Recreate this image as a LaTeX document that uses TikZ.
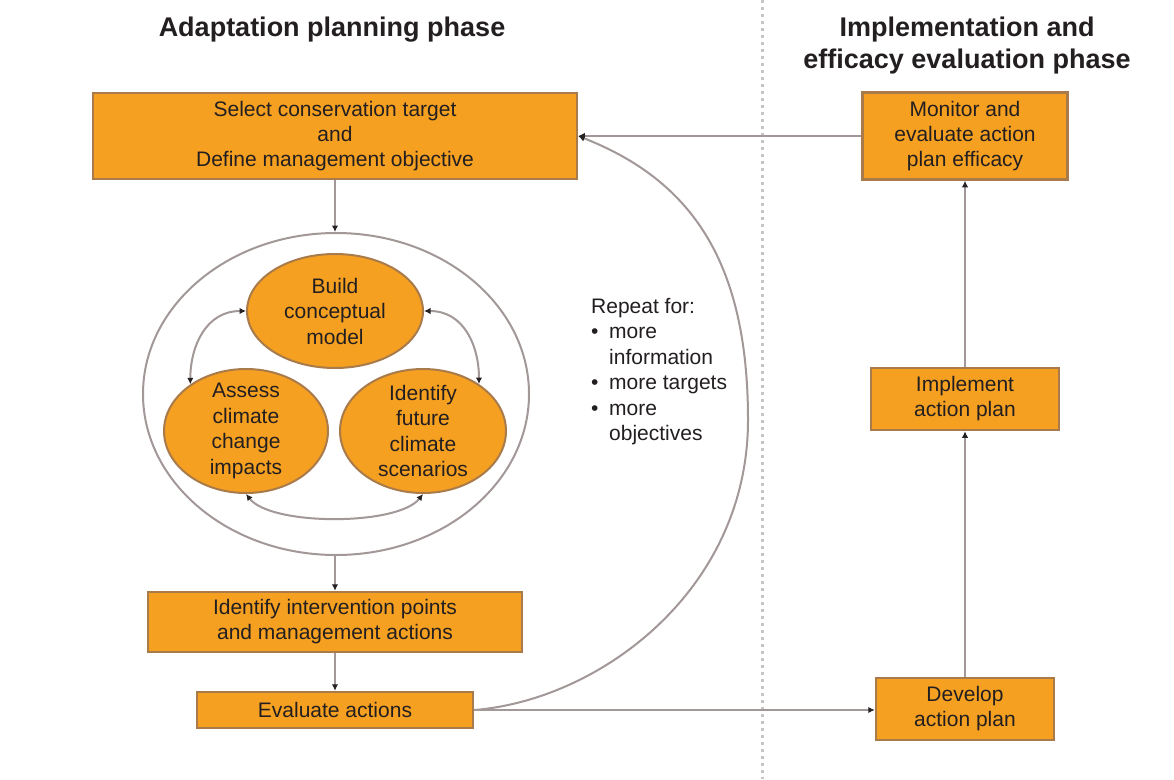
\documentclass[tikz,border=0pt]{standalone}
\usepackage{fontspec}
\setmainfont{Liberation Sans}
\usetikzlibrary{arrows.meta,shapes.geometric}
\definecolor{boxfill}{HTML}{F5A021}
\definecolor{boxline}{HTML}{A97B4A}
\definecolor{conn}{HTML}{A39898}
\definecolor{tipc}{HTML}{262223}
\definecolor{txt}{HTML}{231F20}
\definecolor{divider}{HTML}{C8C4C4}
\begin{document}
\begin{tikzpicture}[x=1pt,y=-1pt,
  every node/.style={text=txt},
  box/.style={rectangle, draw=boxline, fill=boxfill, line width=2.5pt, inner sep=0pt,
    align=center, font=\fontsize{21}{25}\selectfont},
  oval/.style={ellipse, draw=boxline, fill=boxfill, line width=2pt, inner sep=0pt},
  lbl/.style={align=center, font=\fontsize{21}{25.5}\selectfont, text=txt},
  head/.style={align=center, font=\bfseries\fontsize{27}{32}\selectfont},
  tip/.style={-{Latex[length=6.5pt,width=6.5pt,color=tipc]}},
  bitip/.style={{Latex[length=6.5pt,width=6.5pt,color=tipc]}-{Latex[length=6.5pt,width=6.5pt,color=tipc]}},
  link/.style={draw=conn, line width=2pt}
]
\useasboundingbox (0,0) rectangle (1174,779);
\fill[white] (0,0) rectangle (1174,779);

% divider
\draw[divider, line width=3pt, dash pattern=on 3pt off 4pt] (762,0) -- (762,779);

% headings
\node[head] (h1) at (332,30) {Adaptation planning phase};
\node[head] (h2) at (967,46) {Implementation and\\efficacy evaluation phase};

% boxes
\node[box, minimum width=484pt, minimum height=86pt] (sel) at (335,136)
  {Select conservation target\\and\\Define management objective};
\node[box, minimum width=205pt, minimum height=87pt] (mon) at (965,136)
  {Monitor and\\evaluate action\\plan efficacy};
\node[box, minimum width=188pt, minimum height=62pt] (impl) at (965,399)
  {Implement\\action plan};
\node[box, minimum width=178pt, minimum height=62pt] (dev) at (965,709)
  {Develop\\action plan};
\node[box, minimum width=374pt, minimum height=60pt] (ident) at (335,622)
  {Identify intervention points\\and management actions};
\node[box, minimum width=276pt, minimum height=36pt] (eval) at (335,710)
  {Evaluate actions};

% outer ring
\node[ellipse, draw=conn, line width=2pt, minimum width=386pt, minimum height=322pt, inner sep=0pt] (outer) at (336,394) {};

% inner ovals
\node[oval, minimum width=176pt, minimum height=114pt,
  label={[lbl]center:Build\\conceptual\\model}] (build) at (335,311) {};
\node[oval, minimum width=164pt, minimum height=124pt,
  label={[lbl]center:Assess\\climate\\change\\impacts}] (assess) at (246,431) {};
\node[oval, minimum width=166pt, minimum height=124pt,
  label={[lbl]center:Identify\\future\\climate\\scenarios}] (future) at (423,431) {};

% inner connectors
\draw[link, bitip] (build.180) .. controls +(-40,0) and +(0,-38) .. (assess.140);
\draw[link, bitip] (build.0) .. controls +(40,0) and +(0,-38) .. (future.40);
\draw[link, bitip] (assess.270) .. controls +(25,32) and +(-25,32) .. (future.270);

% main flow
\draw[link, tip] (sel.south) -- (sel.south |- outer.north);
\draw[link, tip] (outer.south) -- (outer.south -| ident.north) -- (ident.north);
\draw[link, tip] (ident.south) -- (eval.north);
\draw[link, tip] (eval.east) -- (eval.east -| dev.west);
\draw[link, tip] (dev.north) -- (dev.north -| impl.south) -- (impl.south);
\draw[link, tip] (impl.north) -- (mon.south);
\draw[link, tip] (mon.west) -- (sel.east);
\draw[link, tip] (eval.east) .. controls (600,700) and (748,590) .. (748,420)
  .. controls (748,260) and (690,180) .. (sel.east);

% repeat text
\node[anchor=north west, align=left, font=\fontsize{21}{25.5}\selectfont,
  inner sep=0pt] (rep) at (591,298)
  {Repeat for:\\
   \makebox[18pt][l]{\textbullet}more\\
   \hspace*{18pt}information\\
   \makebox[18pt][l]{\textbullet}more targets\\
   \makebox[18pt][l]{\textbullet}more\\
   \hspace*{18pt}objectives};
\end{tikzpicture}
\end{document}
